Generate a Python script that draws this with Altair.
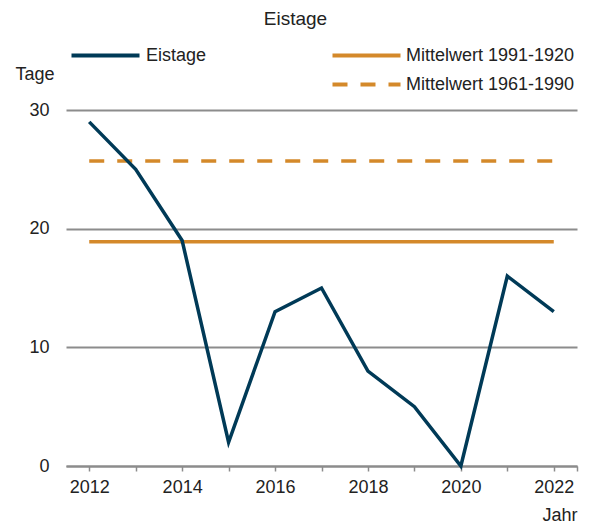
import altair as alt
import pandas as pd

years = [2012, 2013, 2014, 2015, 2016, 2017, 2018, 2019, 2020, 2021, 2022]
eistage = [29, 25, 19, 2, 13, 15, 8, 5, 0, 16, 13]
mean_names = ["Mittelwert 1991-1920", "Mittelwert 1961-1990"]
mean_values = [18.9, 25.7]
x_ticks = years + [2022.5]
x_labels = [2012, 2014, 2016, 2018, 2020, 2022]

BLUE = "#003a57"
ORANGE = "#d4892a"
GRID = "#8c8c8c"
FONT = "Liberation Sans"
FS = 18
SYM = "M-3,0H3"
SYM_SIZE = 514

df_eis = pd.DataFrame({"Jahr": years, "Tage": eistage, "Serie": ["Eistage"] * len(years)})
rows = []
for n, v in zip(mean_names, mean_values):
    rows.append({"Jahr": years[0], "Tage": v, "Serie": n})
    rows.append({"Jahr": years[-1], "Tage": v, "Serie": n})
df_mean = pd.DataFrame(rows)

label_expr = "indexof([" + ",".join(str(v) for v in x_labels) + "], datum.value) >= 0 ? datum.value : ''"

x = alt.X(
    "Jahr:Q",
    scale=alt.Scale(domain=[2011.5, 2022.5], nice=False, zero=False),
    axis=alt.Axis(
        values=x_ticks, labelExpr=label_expr, format="d", grid=False,
        domainColor=GRID, domainWidth=2, tickColor=GRID, tickWidth=1.5, tickSize=5,
        labelPadding=7, labelFontSize=FS, labelColor="#222", labelFont=FONT,
        title="Jahr", titleAnchor="end", titleAlign="right", titleX=511, titleY=40,
        titleFontWeight="normal", titleFontSize=FS, titleFont=FONT, titleColor="#222",
        labelFlush=False, labelOverlap=False,
    ),
)
y = alt.Y(
    "Tage:Q",
    scale=alt.Scale(domain=[0, 30], nice=False),
    axis=alt.Axis(
        values=[0, 10, 20, 30], grid=True, gridColor=GRID, gridWidth=2, domain=False,
        ticks=False, labelPadding=17, labelFontSize=FS, labelColor="#222", labelFont=FONT,
        title="Tage", titleAngle=0, titleAlign="left", titleBaseline="middle",
        titleX=-51, titleY=-36, titleFontWeight="normal", titleFontSize=FS,
        titleFont=FONT, titleColor="#222",
    ),
)

line_eis = alt.Chart(df_eis).mark_line(strokeWidth=3.5, strokeCap="butt").encode(
    x=x, y=y,
    color=alt.Color(
        "Serie:N",
        scale=alt.Scale(domain=["Eistage"], range=[BLUE]),
        legend=alt.Legend(
            title=None, orient="none", legendX=26, legendY=-68, symbolType=SYM,
            symbolSize=SYM_SIZE, symbolStrokeWidth=4, labelFontSize=FS, labelFont=FONT,
            labelColor="#222", labelOffset=27, padding=0, labelLimit=300,
        ),
    ),
)

line_mean = alt.Chart(df_mean).mark_line(strokeWidth=3.5, color=ORANGE).encode(
    x=x, y=y,
    strokeDash=alt.StrokeDash(
        "Serie:N",
        scale=alt.Scale(domain=mean_names, range=[[1, 0], [15, 13]]),
        legend=alt.Legend(
            title=None, orient="none", legendX=287, legendY=-68, symbolType=SYM,
            symbolSize=SYM_SIZE, symbolStrokeWidth=4, symbolStrokeColor=ORANGE,
            labelFontSize=FS, labelFont=FONT, labelColor="#222", labelOffset=26,
            padding=0, rowPadding=6, labelLimit=300,
        ),
    ),
)

chart = (
    alt.layer(line_mean, line_eis)
    .resolve_scale(color="independent", strokeDash="independent")
    .properties(
        width=511, height=356,
        autosize=alt.AutoSizeParams(type="none"),
        padding={"left": 58, "top": 102, "right": 4, "bottom": 60},
        title=alt.TitleParams("Eistage", fontSize=19, font=FONT, fontWeight="normal",
                              color="#222", anchor="middle", offset=13, dx=-26),
    )
    .configure_view(stroke=None)
)

chart.save("out.html", embed_options={"renderer": "svg", "actions": False})
